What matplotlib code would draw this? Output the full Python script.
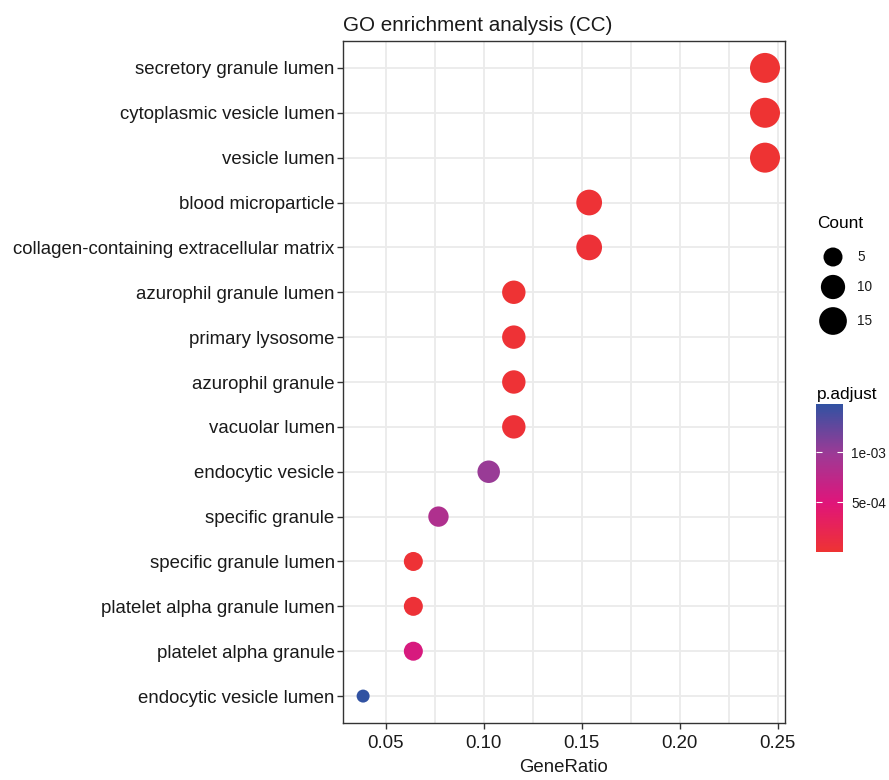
import numpy as np
import matplotlib
matplotlib.use("Agg")
import matplotlib.pyplot as plt
from matplotlib.colors import LinearSegmentedColormap, Normalize
from matplotlib.cm import ScalarMappable

plt.rcParams['font.family'] = ['Liberation Sans', 'DejaVu Sans']

# GO terms, bottom to top
terms = ["endocytic vesicle lumen", "platelet alpha granule",
         "platelet alpha granule lumen", "specific granule lumen",
         "specific granule", "endocytic vesicle", "vacuolar lumen",
         "azurophil granule", "primary lysosome", "azurophil granule lumen",
         "collagen-containing extracellular matrix", "blood microparticle",
         "vesicle lumen", "cytoplasmic vesicle lumen", "secretory granule lumen"]
counts = [3, 5, 5, 5, 6, 8, 9, 9, 9, 9, 12, 12, 19, 19, 19]
total = 78
gene_ratio = [c / total for c in counts]
p_adjust = [1.48e-3, 5.6e-4, 3e-5, 2e-5, 8.5e-4, 1.0e-3, 3e-5, 2e-5,
            2e-5, 1e-5, 3e-5, 2e-5, 1e-6, 1e-6, 1e-6]

cmap = LinearSegmentedColormap.from_list(
    "padj", ["#EE3333", "#E0157A", "#9C3A96", "#3152A2"])
norm = Normalize(vmin=min(p_adjust), vmax=max(p_adjust))

PX = 0.72  # points per pixel at dpi 100


def dot_size(c):
    d = 13 + 17 * np.sqrt((np.asarray(c) - 3) / 16.0)
    return (d * PX) ** 2


fig = plt.figure(figsize=(8.89, 7.8), dpi=100)
ax = fig.add_axes([343 / 889, 1 - 723 / 780, 442 / 889, 682 / 780])

y = np.arange(len(terms))
ax.scatter(gene_ratio, y, s=dot_size(counts), c=p_adjust, cmap=cmap,
           norm=norm, edgecolors='none', zorder=3)

ax.set_xlim(0.0282, 0.2538)
ax.set_ylim(-0.6, len(terms) - 0.4)
ax.set_xticks([0.05, 0.10, 0.15, 0.20, 0.25])
ax.set_xticklabels(["0.05", "0.10", "0.15", "0.20", "0.25"])
ax.set_xticks([0.075, 0.125, 0.175, 0.225], minor=True)
ax.set_yticks(y)
ax.set_yticklabels(terms)
ax.grid(True, which='major', color='#EBEBEB', linewidth=1.3, zorder=0)
ax.grid(True, which='minor', axis='x', color='#EBEBEB', linewidth=1.3, zorder=0)
ax.set_axisbelow(True)
ax.tick_params(axis='both', which='major', length=4, width=1, color='#333333',
               labelsize=13.4, labelcolor='#1A1A1A', pad=2)
ax.tick_params(axis='x', which='major', pad=5)
ax.tick_params(axis='x', which='minor', length=0)
for sp in ax.spines.values():
    sp.set_color('#333333')
    sp.set_linewidth(1)

ax.set_xlabel("GeneRatio", fontsize=13.4, color='#1A1A1A', labelpad=5)
ax.set_title("GO enrichment analysis (CC)", loc='left', fontsize=14.9,
             color='#1A1A1A', pad=7)

# Count legend
fig.text(817 / 889, 1 - 223 / 780, "Count", fontsize=12.4, va='center')
leg_counts = [5, 10, 15]
leg_y = [257, 287, 321]
lax = fig.add_axes([0, 0, 1, 1], facecolor='none')
lax.set_xlim(0, 889)
lax.set_ylim(780, 0)
lax.axis('off')
lax.scatter([833] * 3, leg_y, s=dot_size(leg_counts), c='black',
            edgecolors='none')
for yy, cc in zip(leg_y, leg_counts):
    lax.text(857, yy, str(cc), fontsize=9.8, va='center', color='#1A1A1A')

# p.adjust colourbar
fig.text(817 / 889, 1 - 394 / 780, "p.adjust", fontsize=12.4, va='center')
cax = fig.add_axes([816 / 889, 1 - 552 / 780, 27 / 889, 148 / 780])
cb = fig.colorbar(ScalarMappable(norm=norm, cmap=cmap), cax=cax)
cb.outline.set_visible(False)
cb.set_ticks([5e-4, 1e-3])
cb.set_ticklabels(["5e-04", "1e-03"])
cax.tick_params(direction='in', length=4, color='white', width=0.8,
                left=True, right=True, labelsize=9.8, labelcolor='#1A1A1A',
                pad=6)

fig.savefig("out.png", dpi=100)
